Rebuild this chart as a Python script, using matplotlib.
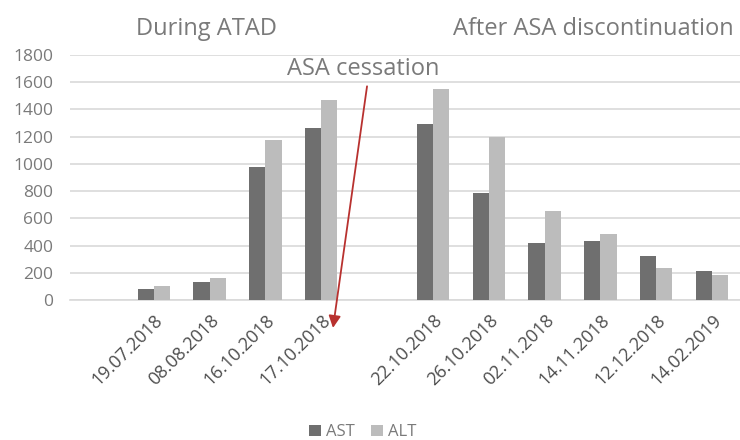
import numpy as np
import matplotlib
matplotlib.use("Agg")
import matplotlib.pyplot as plt

plt.rcParams['font.family'] = ['Open Sans', 'DejaVu Sans']

# sampling dates, with blank slots for the leading gap and the ASA break
dates = ["", "19.07.2018", "08.08.2018", "16.10.2018", "17.10.2018", "",
         "22.10.2018", "26.10.2018", "02.11.2018", "14.11.2018", "12.12.2018", "14.02.2019"]
ast = [np.nan, 80, 130, 975, 1262, np.nan, 1294, 784, 421, 434, 324, 213]
alt = [np.nan, 100, 162, 1176, 1470, np.nan, 1551, 1196, 657, 488, 233, 184]

gray_txt = "#7a7a7a"
ast_col = "#6f6f6f"
alt_col = "#bcbcbc"

fig = plt.figure(figsize=(7.4, 4.4), dpi=100)
ax = fig.add_axes([70 / 740, 1 - 300 / 440, 670 / 740, 245 / 440])

x = np.arange(len(dates))
w = 0.29
ax.bar(x - w / 2, ast, w, color=ast_col, label="AST", zorder=3)
ax.bar(x + w / 2, alt, w, color=alt_col, label="ALT", zorder=3)

ax.set_xlim(-0.5, len(dates) - 0.5)
ax.set_ylim(0, 1800)
ax.set_yticks(range(0, 1801, 200))
ax.yaxis.grid(True, color="#d9d9d9", linewidth=1.2, zorder=0)
ax.set_axisbelow(True)
for s in ["left", "right", "top"]:
    ax.spines[s].set_visible(False)
ax.spines["bottom"].set_color("#d9d9d9")
ax.spines["bottom"].set_linewidth(1.2)

ax.set_xticks(x)
ax.set_xticklabels(dates, rotation=45, ha="right", rotation_mode="anchor")
ax.tick_params(axis="both", length=0)
ax.tick_params(axis="y", pad=12, labelsize=12.5, colors=gray_txt)
ax.tick_params(axis="x", pad=8, labelsize=13, colors="#4d4d4d")

# period headings and the ASA stop marker
ax.text(1.95, 1990, "During ATAD", ha="center", va="center", fontsize=17,
        color=gray_txt, clip_on=False)
ax.text(8.88, 1990, "After ASA discontinuation", ha="center", va="center",
        fontsize=17, color=gray_txt, clip_on=False)
ax.text(4.75, 1695, "ASA cessation", ha="center", va="center", fontsize=17,
        color=gray_txt, clip_on=False)
ax.annotate("", xy=(4.21, -205), xytext=(4.82, 1570), annotation_clip=False,
            arrowprops=dict(arrowstyle="-|>", color="#b8312f", lw=1.3,
                            mutation_scale=18, shrinkA=0, shrinkB=0))

fig.legend(loc="lower center", bbox_to_anchor=(0.49, -0.035), ncol=2, frameon=False,
           fontsize=12, handlelength=0.7, handleheight=0.7, handletextpad=0.3,
           columnspacing=1.0, labelcolor=gray_txt)

fig.savefig("out.png", dpi=100)
